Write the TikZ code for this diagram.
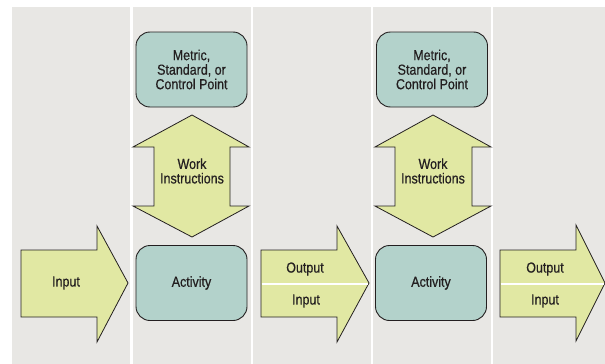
\documentclass[tikz,border=0pt]{standalone}
\usepackage{fontspec}
\setmainfont[FakeStretch=0.86,FakeBold=0.6]{Liberation Sans}
\definecolor{lanegray}{HTML}{E8E7E4}
\definecolor{boxteal}{HTML}{B3D2CB}
\definecolor{arrowgreen}{HTML}{E1E8A3}
\definecolor{inkline}{HTML}{231F20}
\begin{document}
\begin{tikzpicture}[x=1pt,y=-1pt]
\tikzstyle{lane} = [fill=lanegray];
\tikzstyle{box} = [draw=inkline, line width=0.9pt, fill=boxteal, rounded corners=14pt, minimum width=111pt, minimum height=75pt, inner sep=0pt, align=center, text=inkline];
\tikzstyle{fat} = [draw=inkline, line width=0.8pt, fill=arrowgreen, line join=miter];
\tikzstyle{label} = [align=center, inner sep=0pt, text=inkline];
\useasboundingbox (0,0) rectangle (605,364);
\tikzset{every node/.style={font=\fontsize{14.5}{14.5}\selectfont}}
% lanes
\fill[lane] (12,7) rectangle (130,364);
\fill[lane] (133,7) rectangle (250.5,364);
\fill[lane] (252.5,7) rectangle (370.5,364);
\fill[lane] (373,7) rectangle (490.5,364);
\fill[lane] (493,7) rectangle (605,364);
% boxes
\node[box] (metric1) at (191.5,69.5) {Metric,\\Standard, or\\Control Point};
\node[box] (activity1) at (191.5,283) {Activity};
\node[box] (metric2) at (432,69.5) {Metric,\\Standard, or\\Control Point};
\node[box] (activity2) at (431,283) {Activity};
% work instructions
\draw[fat] (192,115) -- (249,147) -- (230,147) -- (230,206) -- (249,206) -- (192,237)
  -- (133,206) -- (154,206) -- (154,147) -- (133,147) -- cycle;
\node[label] (work1) at (192,171) {Work\\Instructions};
\draw[fat] (433,115) -- (491,147) -- (472,147) -- (472,206) -- (491,206) -- (433,237)
  -- (375,206) -- (395,206) -- (395,147) -- (375,147) -- cycle;
\node[label] (work2) at (433,171) {Work\\Instructions};
% flow arrows
\draw[fat] (21,250) -- (97,250) -- (97,226) -- (128,283) -- (97,342) -- (97,317) -- (21,317) -- cycle;
\node[label] (input1) at (66,283) {Input};
\draw[fat] (261,250) -- (337,250) -- (337,226) -- (369,283) -- (337,342) -- (337,317) -- (261,317) -- cycle;
\draw[white, line width=1.3pt] (261.5,284) -- (368,284);
\node[label] (output2) at (305,269) {Output};
\node[label] (input2) at (306,301) {Input};
\draw[fat] (500,250) -- (576,250) -- (576,225) -- (605,283) -- (576,341) -- (576,317) -- (500,317) -- cycle;
\draw[white, line width=1.3pt] (500.5,284) -- (604,284);
\node[label] (output3) at (545,269) {Output};
\node[label] (input3) at (545,301) {Input};
\end{tikzpicture}
\end{document}
